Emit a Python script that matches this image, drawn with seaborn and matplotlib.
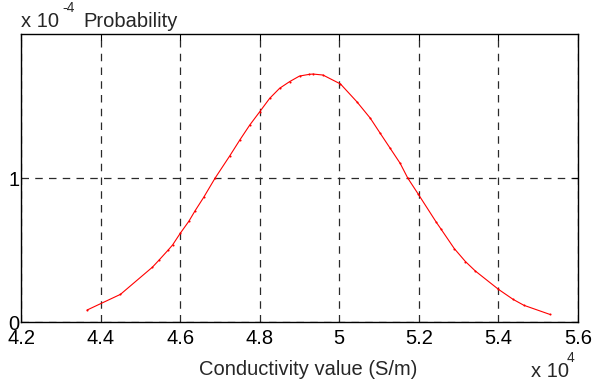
import matplotlib
matplotlib.use("Agg")
import matplotlib.pyplot as plt
import seaborn as sns
import pandas as pd

# Conductivity values (x 10^4 S/m) and probability (x 10^-4)
conductivity = [4.366, 4.45, 4.53, 4.547, 4.570, 4.581, 4.600, 4.622, 4.637, 4.659,
                4.688, 4.725, 4.750, 4.775, 4.800, 4.825, 4.850, 4.875, 4.900, 4.925,
                4.934, 4.959, 5.003, 5.044, 5.078, 5.103, 5.128, 5.153, 5.172, 5.198,
                5.244, 5.256, 5.289, 5.317, 5.342, 5.400, 5.437, 5.464, 5.529]
probability = [0.083, 0.192, 0.38, 0.43, 0.50, 0.535, 0.615, 0.70, 0.77, 0.865,
               1.0, 1.155, 1.264, 1.368, 1.46, 1.553, 1.623, 1.669, 1.708, 1.720,
               1.722, 1.715, 1.653, 1.53, 1.415, 1.31, 1.206, 1.102, 1.0, 0.890,
               0.692, 0.644, 0.51, 0.42, 0.354, 0.227, 0.157, 0.116, 0.053]
x_ticks = [4.2, 4.4, 4.6, 4.8, 5.0, 5.2, 5.4, 5.6]
x_tick_labels = ["4.2", "4.4", "4.6", "4.8", "5", "5.2", "5.4", "5.6"]
y_ticks = [0, 1]
y_tick_labels = ["0", "1"]

sns.set_style("white")
plt.rcParams['font.family'] = ['Liberation Sans', 'DejaVu Sans']

df = pd.DataFrame({"x": conductivity, "y": probability})

W, H = 593, 383
fig = plt.figure(figsize=(W / 100, H / 100), dpi=100)
ax = fig.add_axes([21 / W, 1 - 322 / H, (578 - 21) / W, (322 - 34) / H])

sns.lineplot(data=df, x="x", y="y", ax=ax, sort=False, estimator=None,
             color="red", linewidth=0.8, marker=".", markersize=3,
             markeredgewidth=0, markerfacecolor="red")

ax.set_xlim(4.2, 5.6)
ax.set_ylim(0, 2.0)
ax.set_xticks(x_ticks)
ax.set_xticklabels(x_tick_labels)
ax.set_yticks(y_ticks)
ax.set_yticklabels(y_tick_labels)
ax.set_xlabel("")
ax.set_ylabel("")

ax.grid(True, color="#2a2a2a", linestyle=(0, (6, 5)), linewidth=0.9)
ax.tick_params(direction="in", length=4, width=0.8, labelsize=14.5, colors="black",
               top=True, right=True)
ax.tick_params(axis="x", pad=5)
ax.tick_params(axis="y", pad=1)
for s in ax.spines.values():
    s.set_visible(True)
    s.set_color("black")
    s.set_linewidth(1.0)

fig.text(308 / W, 1 - 375 / H, "Conductivity value (S/m)", ha="center", va="baseline", fontsize=14.5)
fig.text(531 / W, 1 - 377 / H, "x 10", ha="left", va="baseline", fontsize=14.5)
fig.text(567 / W, 1 - 362 / H, "4", ha="left", va="baseline", fontsize=10)
fig.text(21 / W, 1 - 27 / H, "x 10", ha="left", va="baseline", fontsize=14.5)
fig.text(62 / W, 1 - 12 / H, "-4", ha="left", va="baseline", fontsize=10)
fig.text(83 / W, 1 - 27 / H, "Probability", ha="left", va="baseline", fontsize=14.5)

fig.savefig("out.png", dpi=100)
